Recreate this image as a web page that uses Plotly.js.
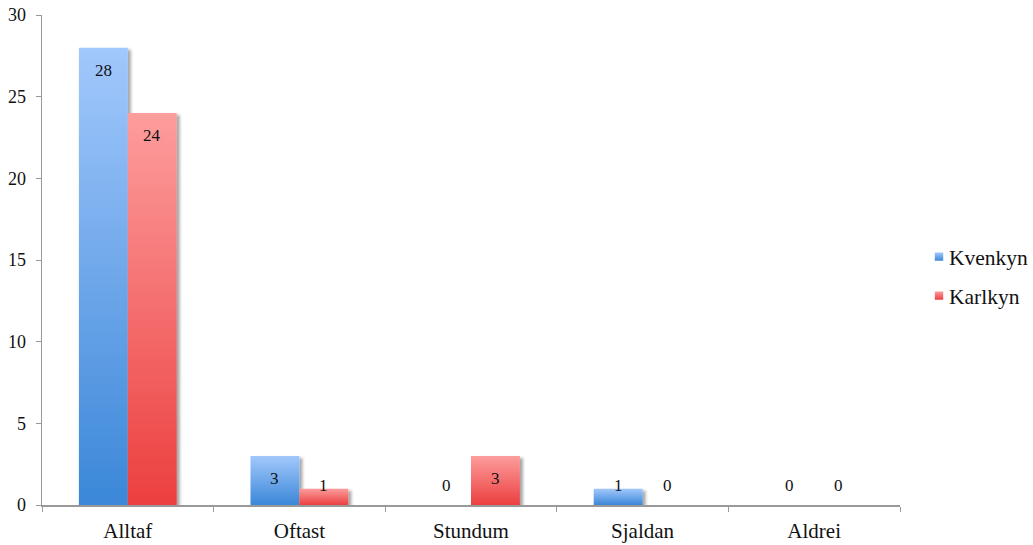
<!DOCTYPE html>
<html>
<head>
<meta charset="utf-8">
<script src="https://cdn.plot.ly/plotly-3.0.1.min.js"></script>
<style>
  html, body { margin: 0; padding: 0; background: #ffffff; }
  #chart { width: 1033px; height: 545px; }
</style>
</head>
<body>
<div id="chart"></div>
<script>
// Answer categories and counts per group
const categories = ["Alltaf", "Oftast", "Stundum", "Sjaldan", "Aldrei"];
const kvenkyn = [28, 3, 0, 1, 0];
const karlkyn = [24, 1, 3, 0, 0];
const seriesNames = ["Kvenkyn", "Karlkyn"];
const yTicks = [0, 5, 10, 15, 20, 25, 30];

const FONT = "Liberation Serif, Times New Roman, serif";
const BARGAP = 0.43;
const PX_PER_UNIT = 490 / 30;

const traces = [
  { name: seriesNames[0], values: kvenkyn, color: "#5e9fe6", group: "a" },
  { name: seriesNames[1], values: karlkyn, color: "#f26666", group: "b" }
].map(s => ({
  type: "bar",
  name: s.name,
  x: categories,
  y: s.values,
  legendgroup: s.group,
  marker: { color: s.color, line: { width: 0 } },
  hoverinfo: "skip"
}));

// Value labels sit just inside the top of each bar, never lower than the axis floor
const halfBar = (1 - BARGAP) / 4;
const annotations = [];
[kvenkyn, karlkyn].forEach((vals, si) => {
  vals.forEach((v, i) => {
    annotations.push({
      xref: "x", yref: "y",
      x: i + (si === 0 ? -halfBar : halfBar),
      y: Math.max(v - 22.5 / PX_PER_UNIT, 20 / PX_PER_UNIT),
      text: String(v),
      showarrow: false,
      xanchor: "center", yanchor: "middle",
      font: { family: FONT, size: 17, color: "#111111" }
    });
  });
});

const layout = {
  width: 1033,
  height: 545,
  margin: { l: 42, r: 133, t: 15, b: 40, pad: 0, autoexpand: false },
  paper_bgcolor: "#ffffff",
  plot_bgcolor: "#ffffff",
  barmode: "group",
  bargap: BARGAP,
  bargroupgap: 0,
  showlegend: true,
  hovermode: false,
  font: { family: FONT, color: "#111111" },
  xaxis: {
    type: "category",
    range: [-0.5, 4.5],
    tickson: "boundaries",
    ticks: "outside",
    ticklen: 5,
    tickcolor: "#999999",
    showline: true,
    linecolor: "#999999",
    linewidth: 1.5,
    showgrid: false,
    zeroline: false,
    ticklabelstandoff: 6,
    tickfont: { family: FONT, size: 21, color: "#111111" }
  },
  yaxis: {
    range: [0, 30],
    tickvals: yTicks,
    ticktext: yTicks.map(String),
    ticks: "outside",
    ticklen: 5,
    tickcolor: "#999999",
    showline: true,
    linecolor: "#999999",
    linewidth: 1.5,
    showgrid: false,
    zeroline: false,
    ticklabelstandoff: 6,
    tickfont: { family: FONT, size: 18, color: "#111111" }
  },
  legend: {
    x: 1.0105, xanchor: "left",
    y: 0.467, yanchor: "middle",
    traceorder: "grouped",
    tracegroupgap: 8,
    font: { family: FONT, size: 21.5, color: "#111111" },
    bgcolor: "rgba(0,0,0,0)",
    borderwidth: 0
  },
  annotations: annotations
};

const gd = document.getElementById("chart");
Plotly.newPlot(gd, traces, layout, { staticPlot: true, displayModeBar: false }).then(() => {
  // Vertical gradients and a soft drop shadow for the bars
  const svg = gd.querySelector("svg.main-svg");
  let defs = svg.querySelector("defs");
  const NS = "http://www.w3.org/2000/svg";
  if (!defs) { defs = document.createElementNS(NS, "defs"); svg.insertBefore(defs, svg.firstChild); }
  const mkGrad = (id, top, bottom) => {
    const g = document.createElementNS(NS, "linearGradient");
    g.setAttribute("id", id);
    g.setAttribute("x1", "0"); g.setAttribute("y1", "0");
    g.setAttribute("x2", "0"); g.setAttribute("y2", "1");
    [[0, top], [1, bottom]].forEach(([o, c]) => {
      const s = document.createElementNS(NS, "stop");
      s.setAttribute("offset", o);
      s.setAttribute("stop-color", c);
      g.appendChild(s);
    });
    defs.appendChild(g);
  };
  mkGrad("gradBlue", "#a2c8fc", "#3b87d8");
  mkGrad("gradRed", "#fd9d9d", "#ec3f3f");
  const f = document.createElementNS(NS, "filter");
  f.setAttribute("id", "barShadow");
  f.setAttribute("x", "-20%"); f.setAttribute("y", "-20%");
  f.setAttribute("width", "150%"); f.setAttribute("height", "140%");
  const ds = document.createElementNS(NS, "feDropShadow");
  ds.setAttribute("dx", "3"); ds.setAttribute("dy", "2");
  ds.setAttribute("stdDeviation", "1.6");
  ds.setAttribute("flood-color", "#000000");
  ds.setAttribute("flood-opacity", "0.35");
  f.appendChild(ds);
  defs.appendChild(f);

  const gradIds = ["gradBlue", "gradRed"];
  gd.querySelectorAll(".barlayer .trace").forEach((t, i) => {
    t.querySelectorAll("path").forEach(p => {
      p.style.fill = "url(#" + gradIds[i] + ")";
      p.setAttribute("filter", "url(#barShadow)");
    });
  });
  gd.querySelectorAll(".legend .traces").forEach((t, i) => {
    t.querySelectorAll(".legendpoints path").forEach(p => {
      p.style.fill = "url(#" + gradIds[i] + ")";
      p.setAttribute("transform", "translate(30,0) scale(0.7)");
    });
  });
});
</script>
</body>
</html>
